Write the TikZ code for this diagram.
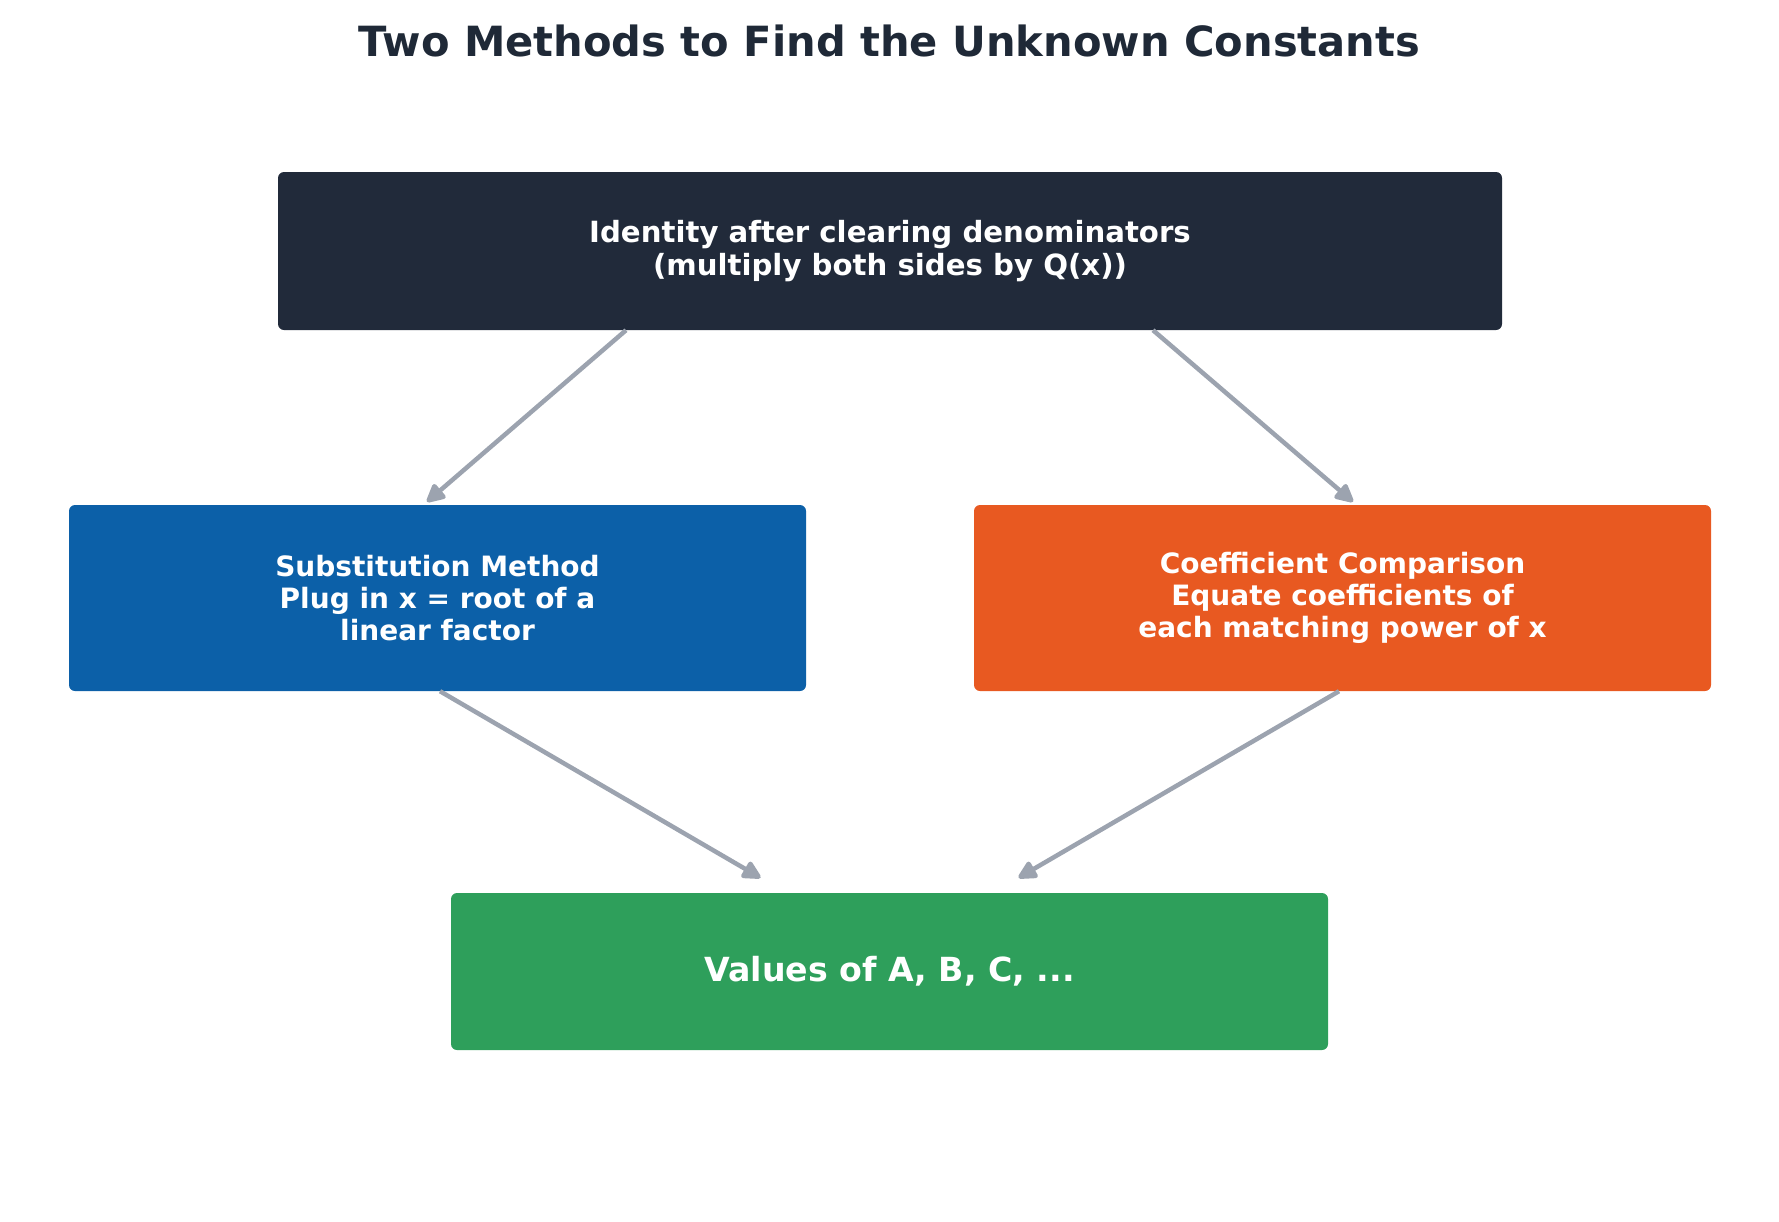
\documentclass[tikz,border=0pt]{standalone}
\usepackage{fontspec}
\setmainfont{DejaVu Sans}
\usetikzlibrary{arrows.meta}

\definecolor{darkbox}{HTML}{212A3A}
\definecolor{bluebox}{HTML}{0C60A8}
\definecolor{orangebox}{HTML}{E85921}
\definecolor{greenbox}{HTML}{2E9F5B}
\definecolor{arrowgray}{HTML}{9CA3AF}
\definecolor{titlecol}{HTML}{1F2937}

\begin{document}
\begin{tikzpicture}[x=1pt,y=-1pt,
    box/.style={rounded corners=6pt, text=white, align=center, inner sep=0pt,
        font=\bfseries\fontsize{28}{32}\selectfont},
    flow/.style={-{Triangle[length=21pt,width=20pt,round]}, line width=4.5pt, color=arrowgray}]
    \useasboundingbox (0,0) rectangle (1779,1221);
    \node[font=\bfseries\fontsize{41.6}{48}\selectfont, text=titlecol] (title) at (889.5,41) {Two Methods to Find the Unknown Constants};
    \node[box, fill=darkbox, minimum width=1224pt, minimum height=158pt,
        font=\bfseries\fontsize{29.2}{33}\selectfont] (clear) at (890,251)
        {Identity after clearing denominators\\(multiply both sides by Q(x))};
    \node[box, fill=bluebox, minimum width=737pt, minimum height=186pt] (subst) at (437.5,598)
        {Substitution Method\\Plug in x = root of a\\linear factor};
    \node[box, fill=orangebox, minimum width=737pt, minimum height=186pt] (coeff) at (1342.5,598)
        {Coefficient Comparison\\Equate coefficients of\\each matching power of x};
    \node[box, fill=greenbox, minimum width=877pt, minimum height=157pt,
        font=\bfseries\fontsize{33.2}{38}\selectfont] (values) at (889.5,971.5) {Values of A, B, C, ...};
    % arrows
    \draw[flow] ([xshift=-264pt]clear.south) -- ([xshift=-10.5pt,yshift=3pt]subst.north);
    \draw[flow] ([xshift=263pt]clear.south) -- ([xshift=10.5pt,yshift=3pt]coeff.north);
    \draw[flow] ([xshift=2.5pt]subst.south) -- ([xshift=-129pt,yshift=15pt]values.north);
    \draw[flow] ([xshift=-3.5pt]coeff.south) -- ([xshift=129pt,yshift=15pt]values.north);
\end{tikzpicture}
\end{document}
